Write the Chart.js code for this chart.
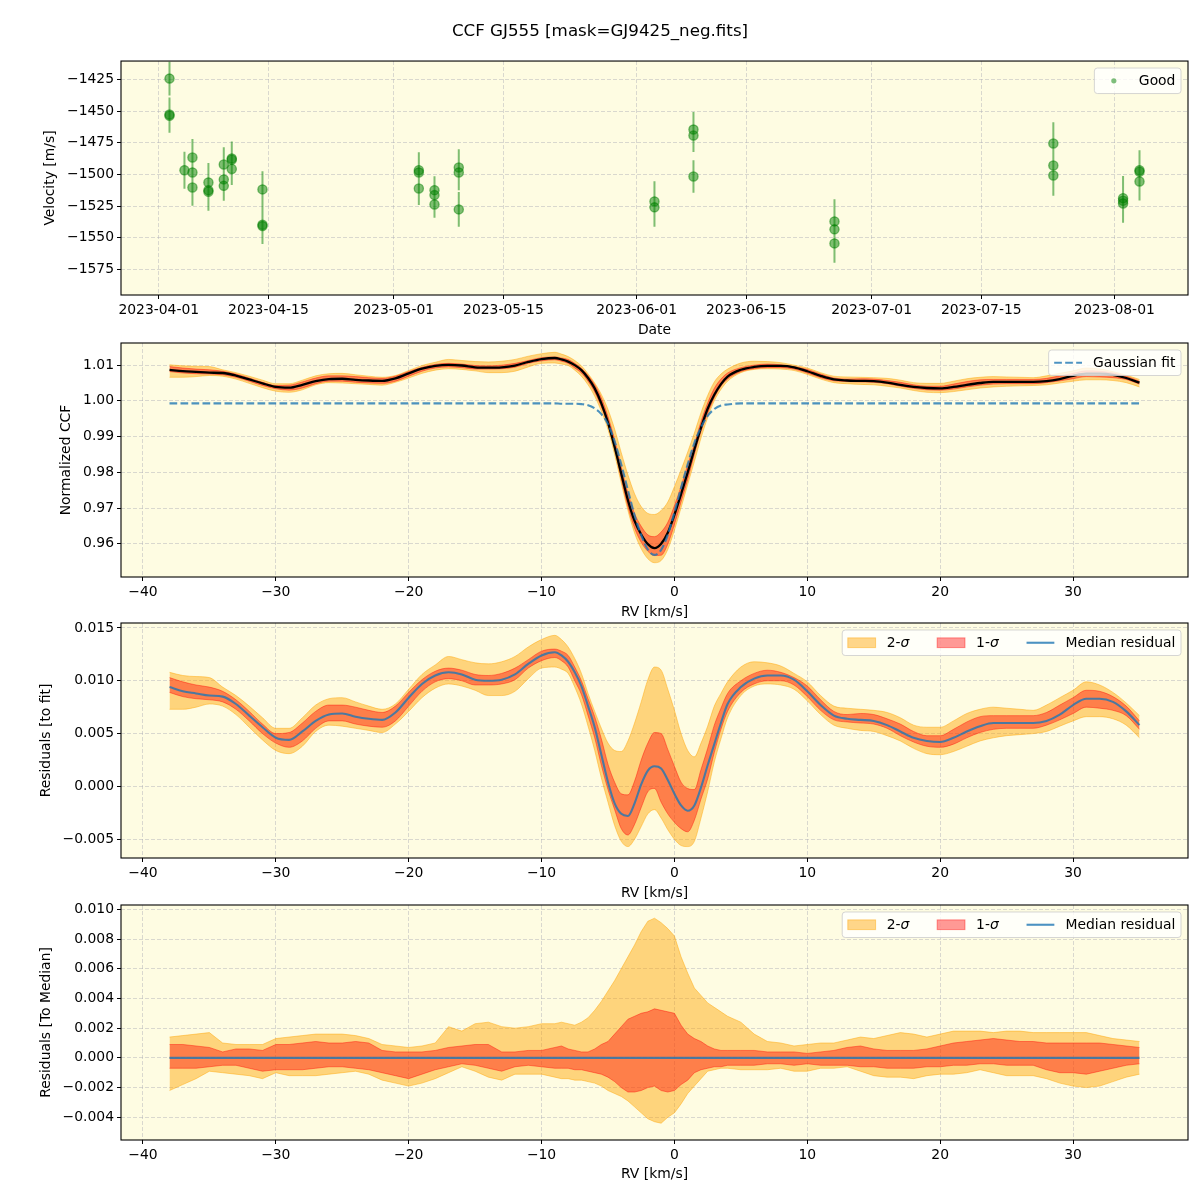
<!DOCTYPE html>
<html>
<head>
<meta charset="utf-8">
<title>CCF GJ555</title>
<script src="https://cdn.jsdelivr.net/npm/chart.js@4.4.1/dist/chart.umd.min.js"></script>
<style>
  html, body { margin: 0; padding: 0; background: #ffffff; }
  #fig { position: relative; width: 1200px; height: 1200px; overflow: hidden; background: #ffffff; }
  #fig canvas { position: absolute; left: 0; }
</style>
</head>
<body>
<div id="fig">
  <canvas id="p1" width="1200" height="340" style="top:0px"></canvas>
  <canvas id="p2" width="1200" height="287" style="top:335px"></canvas>
  <canvas id="p3" width="1200" height="288" style="top:615px"></canvas>
  <canvas id="p4" width="1200" height="288" style="top:897px"></canvas>
</div>
<script>
// ---------------- DATA ----------------
const figTitle = 'CCF GJ555 [mask=GJ9425_neg.fits]';

// Top panel: observations (days since 2023-04-01), velocity [m/s], error [m/s]
const obsDay = [1.37,1.37,1.37, 3.28, 4.3,4.3,4.3, 6.34,6.34,6.34, 8.3,8.3,8.3, 9.32,9.32,9.32,
  13.24,13.24,13.24, 33.2,33.2,33.2, 35.2,35.2,35.2, 38.3,38.3,38.3, 63.28,63.28,
  68.26,68.26,68.26, 86.26,86.26,86.26, 114.2,114.2,114.2, 123.1,123.1,123.1, 125.2,125.2,125.2];
const obsVel = [-1424.2,-1452.6,-1453.6, -1496.6, -1486.6,-1498.4,-1510.3, -1506.3,-1512.4,-1513.7,
  -1492.1,-1503.9,-1509.0, -1487.3,-1488.4,-1495.6, -1511.8,-1539.8,-1540.8, -1496.6,-1498.4,-1511.1,
  -1512.4,-1516.3,-1523.7, -1494.5,-1498.4,-1527.6, -1521.3,-1526.0, -1464.5,-1469.2,-1501.6,
  -1537.1,-1543.4,-1554.5, -1475.5,-1492.9,-1500.8, -1518.7,-1520.8,-1522.9, -1496.6,-1497.9,-1505.5];
const obsErr = [13.3,13.5,13.5, 14.6, 14.6,14.5,14.5, 15.3,15.0,15.0, 13.7,12.5,11.8, 13.4,13.0,12.8,
  14.4,14.2,14.2, 14.2,13.5,13.1, 11.0,11.0,10.5, 14.5,14.0,13.8, 16.0,15.4, 13.9,13.0,12.9,
  17.6,16.0,15.3, 16.8,16.4,16.1, 17.4,16.0,15.3, 15.8,15.5,15.1];

const dateTickDays = [0,14,30,44,61,75,91,105,122];
const dateTickLabels = ['2023-04-01','2023-04-15','2023-05-01','2023-05-15','2023-06-01','2023-06-15','2023-07-01','2023-07-15','2023-08-01'];
const velTickVals = [-1575,-1550,-1525,-1500,-1475,-1450,-1425];
const velTickLabels = ['\u22121575','\u22121550','\u22121525','\u22121500','\u22121475','\u22121450','\u22121425'];

// RV grid [km/s]
const rv = [-38,-37,-36,-35,-34,-33,-32,-31,-30,-29,
  -28,-27,-26,-25,-24,-23,-22,-21,-20,-19,
  -18,-17,-16,-15,-14,-13,-12,-11,-10,-9,
  -8.5,-8,-7.5,-7,-6.5,-6,-5.5,-5,-4.5,-4,
  -3.5,-3,-2.5,-2,-1.5,-1,-0.5,0,0.5,1,
  1.5,2,2.5,3,3.5,4,5,6,7,8,
  9,10,11,12,13,14,15,16,17,18,
  19,20,21,22,23,24,25,26,27,28,
  29,30,31,32,33,34,35];

// Panel 2: normalized CCF
const ccfMedian = [1.0087,1.0083,1.0081,1.0079,1.0078,1.0071,1.0060,1.0049,1.0039,1.0037,
  1.0045,1.0055,1.0061,1.0062,1.0059,1.0057,1.0056,1.0063,1.0077,1.0090,
  1.0098,1.0101,1.0099,1.0094,1.0093,1.0094,1.0099,1.0109,1.0117,1.0120,
  1.0116,1.0110,1.0100,1.0086,1.0064,1.0035,0.9993,0.9939,0.9871,0.9796,
  0.9722,0.9664,0.9626,0.9599,0.9588,0.9600,0.9631,0.9681,0.9739,0.9800,
  0.9864,0.9925,0.9978,1.0017,1.0047,1.0068,1.0087,1.0095,1.0098,1.0098,
  1.0094,1.0083,1.0070,1.0060,1.0057,1.0056,1.0055,1.0051,1.0045,1.0039,
  1.0036,1.0035,1.0039,1.0045,1.0050,1.0053,1.0053,1.0053,1.0053,1.0055,
  1.0061,1.0070,1.0076,1.0076,1.0073,1.0064,1.0051];
const ccf1Lo = [1.0082,1.0078,1.0076,1.0075,1.0073,1.0066,1.0055,1.0043,1.0034,1.0030,
  1.0036,1.0048,1.0055,1.0055,1.0052,1.0050,1.0049,1.0055,1.0069,1.0083,
  1.0092,1.0095,1.0093,1.0089,1.0089,1.0090,1.0094,1.0105,1.0112,1.0115,
  1.0111,1.0105,1.0092,1.0078,1.0055,1.0025,0.9983,0.9932,0.9865,0.9782,
  0.9704,0.9644,0.9604,0.9579,0.9567,0.9568,0.9599,0.9654,0.9717,0.9780,
  0.9850,0.9914,0.9965,1.0009,1.0041,1.0061,1.0082,1.0090,1.0093,1.0093,
  1.0089,1.0078,1.0065,1.0056,1.0054,1.0053,1.0052,1.0048,1.0041,1.0035,
  1.0031,1.0030,1.0033,1.0039,1.0044,1.0047,1.0048,1.0048,1.0048,1.0051,
  1.0056,1.0062,1.0068,1.0067,1.0065,1.0060,1.0047];
const ccf1Hi = [1.0096,1.0092,1.0089,1.0087,1.0083,1.0075,1.0064,1.0052,1.0043,1.0044,
  1.0053,1.0064,1.0070,1.0070,1.0068,1.0065,1.0063,1.0069,1.0082,1.0094,
  1.0102,1.0105,1.0103,1.0099,1.0098,1.0100,1.0105,1.0113,1.0121,1.0123,
  1.0120,1.0116,1.0105,1.0091,1.0071,1.0045,1.0008,0.9956,0.9891,0.9815,
  0.9742,0.9685,0.9649,0.9625,0.9620,0.9633,0.9660,0.9707,0.9761,0.9821,
  0.9879,0.9942,0.9994,1.0035,1.0061,1.0078,1.0093,1.0100,1.0103,1.0101,
  1.0096,1.0088,1.0075,1.0064,1.0061,1.0062,1.0061,1.0057,1.0052,1.0045,
  1.0041,1.0041,1.0047,1.0054,1.0059,1.0060,1.0060,1.0060,1.0060,1.0063,
  1.0070,1.0077,1.0084,1.0083,1.0078,1.0069,1.0055];
const ccf2Lo = [1.0066,1.0066,1.0068,1.0071,1.0069,1.0061,1.0049,1.0037,1.0027,1.0024,
  1.0031,1.0045,1.0051,1.0050,1.0048,1.0046,1.0044,1.0052,1.0064,1.0077,
  1.0086,1.0090,1.0088,1.0084,1.0079,1.0079,1.0083,1.0095,1.0105,1.0106,
  1.0103,1.0099,1.0086,1.0069,1.0045,1.0013,0.9971,0.9920,0.9850,0.9770,
  0.9693,0.9630,0.9586,0.9558,0.9547,0.9553,0.9584,0.9638,0.9701,0.9766,
  0.9830,0.9896,0.9953,1.0000,1.0032,1.0055,1.0079,1.0088,1.0090,1.0089,
  1.0085,1.0074,1.0061,1.0051,1.0048,1.0046,1.0045,1.0041,1.0036,1.0029,
  1.0024,1.0023,1.0026,1.0031,1.0036,1.0039,1.0041,1.0042,1.0043,1.0045,
  1.0050,1.0055,1.0059,1.0059,1.0057,1.0051,1.0039];
const ccf2Hi = [1.0101,1.0098,1.0097,1.0096,1.0087,1.0079,1.0069,1.0058,1.0048,1.0048,
  1.0058,1.0070,1.0076,1.0077,1.0073,1.0069,1.0066,1.0071,1.0085,1.0099,
  1.0108,1.0116,1.0113,1.0110,1.0109,1.0111,1.0116,1.0125,1.0132,1.0136,
  1.0131,1.0124,1.0113,1.0098,1.0076,1.0050,1.0018,0.9976,0.9921,0.9855,
  0.9793,0.9740,0.9704,0.9685,0.9682,0.9693,0.9717,0.9760,0.9807,0.9857,
  0.9910,0.9967,1.0015,1.0053,1.0075,1.0089,1.0106,1.0111,1.0110,1.0107,
  1.0100,1.0092,1.0079,1.0069,1.0067,1.0066,1.0065,1.0063,1.0058,1.0051,
  1.0049,1.0049,1.0055,1.0062,1.0066,1.0068,1.0067,1.0066,1.0065,1.0070,
  1.0077,1.0084,1.0092,1.0089,1.0082,1.0072,1.0060];
const gaussFit = [0.9993,0.9993,0.9993,0.9993,0.9993,0.9993,0.9993,0.9993,0.9993,0.9993,
  0.9993,0.9993,0.9993,0.9993,0.9993,0.9993,0.9993,0.9993,0.9993,0.9993,
  0.9993,0.9993,0.9993,0.9993,0.9993,0.9993,0.9993,0.9993,0.9993,0.9993,
  0.9992,0.9992,0.9992,0.9991,0.9988,0.9979,0.9963,0.9935,0.9887,0.9822,
  0.9750,0.9680,0.9624,0.9584,0.9569,0.9583,0.9625,0.9688,0.9757,0.9823,
  0.9882,0.9926,0.9958,0.9977,0.9987,0.9990,0.9993,0.9993,0.9993,0.9993,
  0.9993,0.9993,0.9993,0.9993,0.9993,0.9993,0.9993,0.9993,0.9993,0.9993,
  0.9993,0.9993,0.9993,0.9993,0.9993,0.9993,0.9993,0.9993,0.9993,0.9993,
  0.9993,0.9993,0.9993,0.9993,0.9993,0.9993,0.9993];
const ccfTickVals = [0.96,0.97,0.98,0.99,1.00,1.01];
const ccfTickLabels = ['0.96','0.97','0.98','0.99','1.00','1.01'];

// Panel 3: residuals to fit
const resMedian = [0.0094,0.0090,0.0088,0.0086,0.0085,0.0078,0.0067,0.0056,0.0046,0.0044,
  0.0052,0.0062,0.0068,0.0069,0.0066,0.0064,0.0063,0.0070,0.0084,0.0097,
  0.0105,0.0108,0.0106,0.0101,0.0100,0.0101,0.0106,0.0116,0.0124,0.0127,
  0.0124,0.0118,0.0108,0.0095,0.0076,0.0056,0.0030,0.0004,-0.0016,-0.0026,
  -0.0028,-0.0016,0.0002,0.0015,0.0019,0.0017,0.0006,-0.0007,-0.0018,-0.0023,
  -0.0018,-0.0001,0.0020,0.0040,0.0060,0.0078,0.0094,0.0102,0.0105,0.0105,
  0.0101,0.0090,0.0077,0.0067,0.0064,0.0063,0.0062,0.0058,0.0052,0.0046,
  0.0043,0.0042,0.0046,0.0052,0.0057,0.0060,0.0060,0.0060,0.0060,0.0062,
  0.0068,0.0077,0.0083,0.0083,0.0080,0.0071,0.0058];
const res1Lo = [0.0089,0.0085,0.0083,0.0082,0.0080,0.0073,0.0062,0.0050,0.0041,0.0037,
  0.0043,0.0055,0.0062,0.0062,0.0059,0.0057,0.0056,0.0062,0.0076,0.0090,
  0.0099,0.0102,0.0100,0.0096,0.0096,0.0097,0.0101,0.0112,0.0119,0.0122,
  0.0119,0.0113,0.0100,0.0087,0.0067,0.0046,0.0020,-0.0003,-0.0022,-0.0040,
  -0.0046,-0.0036,-0.0020,-0.0005,-0.0002,-0.0015,-0.0026,-0.0034,-0.0040,-0.0043,
  -0.0032,-0.0012,0.0007,0.0032,0.0054,0.0071,0.0089,0.0097,0.0100,0.0100,
  0.0096,0.0085,0.0072,0.0063,0.0061,0.0060,0.0059,0.0055,0.0048,0.0042,
  0.0038,0.0037,0.0040,0.0046,0.0051,0.0054,0.0055,0.0055,0.0055,0.0058,
  0.0063,0.0069,0.0075,0.0074,0.0072,0.0067,0.0054];
const res1Hi = [0.0103,0.0099,0.0096,0.0094,0.0090,0.0082,0.0071,0.0059,0.0050,0.0051,
  0.0060,0.0071,0.0077,0.0077,0.0075,0.0072,0.0070,0.0076,0.0089,0.0101,
  0.0109,0.0112,0.0110,0.0106,0.0105,0.0107,0.0112,0.0120,0.0128,0.0130,
  0.0128,0.0124,0.0113,0.0100,0.0083,0.0066,0.0045,0.0021,0.0004,-0.0007,
  -0.0008,0.0005,0.0025,0.0041,0.0051,0.0050,0.0035,0.0019,0.0004,-0.0002,
  -0.0003,0.0016,0.0036,0.0058,0.0074,0.0088,0.0100,0.0107,0.0110,0.0108,
  0.0103,0.0095,0.0082,0.0071,0.0068,0.0069,0.0068,0.0064,0.0059,0.0052,
  0.0048,0.0048,0.0054,0.0061,0.0066,0.0067,0.0067,0.0067,0.0067,0.0070,
  0.0077,0.0084,0.0091,0.0090,0.0085,0.0076,0.0062];
const res2Lo = [0.0073,0.0073,0.0075,0.0078,0.0076,0.0068,0.0056,0.0044,0.0034,0.0031,
  0.0038,0.0052,0.0058,0.0057,0.0055,0.0053,0.0051,0.0059,0.0071,0.0084,
  0.0093,0.0097,0.0095,0.0091,0.0086,0.0086,0.0090,0.0102,0.0112,0.0113,
  0.0111,0.0107,0.0094,0.0078,0.0057,0.0034,0.0008,-0.0015,-0.0037,-0.0052,
  -0.0057,-0.0050,-0.0038,-0.0026,-0.0022,-0.0030,-0.0041,-0.0050,-0.0056,-0.0057,
  -0.0052,-0.0030,-0.0005,0.0023,0.0045,0.0065,0.0086,0.0095,0.0097,0.0096,
  0.0092,0.0081,0.0068,0.0058,0.0055,0.0053,0.0052,0.0048,0.0043,0.0036,
  0.0031,0.0030,0.0033,0.0038,0.0043,0.0046,0.0048,0.0049,0.0050,0.0052,
  0.0057,0.0062,0.0066,0.0066,0.0064,0.0058,0.0046];
const res2Hi = [0.0108,0.0105,0.0104,0.0103,0.0094,0.0086,0.0076,0.0065,0.0055,0.0055,
  0.0065,0.0077,0.0083,0.0084,0.0080,0.0076,0.0073,0.0078,0.0092,0.0106,
  0.0115,0.0123,0.0120,0.0117,0.0116,0.0118,0.0123,0.0132,0.0139,0.0143,
  0.0139,0.0132,0.0121,0.0107,0.0088,0.0071,0.0055,0.0041,0.0034,0.0033,
  0.0043,0.0060,0.0080,0.0101,0.0113,0.0110,0.0092,0.0072,0.0050,0.0034,
  0.0028,0.0041,0.0057,0.0076,0.0088,0.0099,0.0113,0.0118,0.0117,0.0114,
  0.0107,0.0099,0.0086,0.0076,0.0074,0.0073,0.0072,0.0070,0.0065,0.0058,
  0.0056,0.0056,0.0062,0.0069,0.0073,0.0075,0.0074,0.0073,0.0072,0.0077,
  0.0084,0.0091,0.0099,0.0096,0.0089,0.0079,0.0067];
const resTickVals = [-0.005,0,0.005,0.010,0.015];
const resTickLabels = ['\u22120.005','0.000','0.005','0.010','0.015'];

// Panel 4: residuals to median
const medMedian = [0,0,0,0,0,0,0,0,0,0, 0,0,0,0,0,0,0,0,0,0, 0,0,0,0,0,0,0,0,0,0,
  0,0,0,0,0,0,0,0,0,0, 0,0,0,0,0,0,0,0,0,0, 0,0,0,0,0,0,0,0,0,0,
  0,0,0,0,0,0,0,0,0,0, 0,0,0,0,0,0,0,0,0,0, 0,0,0,0,0,0,0];
const med1Lo = [-0.0007,-0.0007,-0.0007,-0.0006,-0.0005,-0.0005,-0.0007,-0.0009,-0.0008,-0.0008,
  -0.0008,-0.0007,-0.0006,-0.0006,-0.0007,-0.0008,-0.0010,-0.0012,-0.0014,-0.0011,
  -0.0008,-0.0006,-0.0004,-0.0005,-0.0007,-0.0009,-0.0006,-0.0005,-0.0006,-0.0007,
  -0.0007,-0.0007,-0.0008,-0.0008,-0.0009,-0.0010,-0.0011,-0.0013,-0.0016,-0.0020,
  -0.0023,-0.0023,-0.0022,-0.0020,-0.0019,-0.0022,-0.0023,-0.0022,-0.0018,-0.0015,
  -0.0010,-0.0008,-0.0007,-0.0006,-0.0006,-0.0005,-0.0005,-0.0005,-0.0004,-0.0004,
  -0.0005,-0.0004,-0.0005,-0.0005,-0.0005,-0.0006,-0.0006,-0.0007,-0.0007,-0.0007,
  -0.0006,-0.0006,-0.0005,-0.0005,-0.0004,-0.0004,-0.0005,-0.0005,-0.0005,-0.0008,
  -0.0010,-0.0010,-0.0011,-0.0009,-0.0007,-0.0005,-0.0004];
const med1Hi = [0.0009,0.0009,0.0008,0.0007,0.0004,0.0006,0.0006,0.0005,0.0009,0.0009,
  0.0010,0.0011,0.0010,0.0010,0.0011,0.0010,0.0005,0.0004,0.0004,0.0004,
  0.0005,0.0007,0.0008,0.0009,0.0009,0.0004,0.0004,0.0005,0.0005,0.0007,
  0.0008,0.0006,0.0005,0.0004,0.0004,0.0006,0.0009,0.0011,0.0016,0.0021,
  0.0026,0.0028,0.0030,0.0031,0.0033,0.0032,0.0031,0.0030,0.0022,0.0016,
  0.0013,0.0011,0.0008,0.0006,0.0005,0.0005,0.0005,0.0005,0.0004,0.0004,
  0.0004,0.0003,0.0004,0.0005,0.0007,0.0008,0.0006,0.0005,0.0005,0.0005,
  0.0006,0.0008,0.0010,0.0011,0.0012,0.0013,0.0012,0.0011,0.0011,0.0010,
  0.0010,0.0010,0.0010,0.0010,0.0009,0.0008,0.0007];
const med2Lo = [-0.0022,-0.0018,-0.0014,-0.0009,-0.0010,-0.0011,-0.0012,-0.0014,-0.0010,-0.0012,
  -0.0012,-0.0012,-0.0011,-0.0010,-0.0009,-0.0011,-0.0015,-0.0017,-0.0019,-0.0017,
  -0.0014,-0.0010,-0.0006,-0.0009,-0.0013,-0.0015,-0.0011,-0.0011,-0.0011,-0.0013,
  -0.0014,-0.0014,-0.0015,-0.0015,-0.0016,-0.0017,-0.0019,-0.0022,-0.0024,-0.0026,
  -0.0029,-0.0033,-0.0037,-0.0041,-0.0043,-0.0044,-0.0040,-0.0037,-0.0031,-0.0024,
  -0.0019,-0.0014,-0.0009,-0.0008,-0.0007,-0.0007,-0.0008,-0.0008,-0.0008,-0.0007,
  -0.0009,-0.0009,-0.0007,-0.0007,-0.0006,-0.0009,-0.0012,-0.0013,-0.0013,-0.0014,
  -0.0012,-0.0011,-0.0011,-0.0010,-0.0008,-0.0010,-0.0012,-0.0012,-0.0012,-0.0014,
  -0.0017,-0.0019,-0.0020,-0.0019,-0.0016,-0.0013,-0.0011];
const med2Hi = [0.0014,0.0015,0.0016,0.0017,0.0010,0.0009,0.0009,0.0009,0.0013,0.0014,
  0.0015,0.0016,0.0016,0.0016,0.0015,0.0013,0.0009,0.0008,0.0007,0.0008,
  0.0010,0.0021,0.0018,0.0023,0.0024,0.0021,0.0020,0.0021,0.0023,0.0023,
  0.0024,0.0023,0.0022,0.0024,0.0027,0.0032,0.0038,0.0045,0.0052,0.0060,
  0.0068,0.0076,0.0085,0.0092,0.0094,0.0091,0.0087,0.0082,0.0068,0.0057,
  0.0047,0.0042,0.0037,0.0034,0.0031,0.0028,0.0024,0.0016,0.0011,0.0010,
  0.0008,0.0009,0.0010,0.0010,0.0012,0.0014,0.0013,0.0015,0.0017,0.0016,
  0.0014,0.0016,0.0018,0.0018,0.0018,0.0017,0.0018,0.0018,0.0017,0.0017,
  0.0017,0.0017,0.0017,0.0015,0.0013,0.0012,0.0011];
const medTickVals = [-0.004,-0.002,0,0.002,0.004,0.006,0.008,0.010];
const medTickLabels = ['\u22120.004','\u22120.002','0.000','0.002','0.004','0.006','0.008','0.010'];

const rvTickVals = [-40,-30,-20,-10,0,10,20,30];
const rvTickLabels = ['\u221240','\u221230','\u221220','\u221210','0','10','20','30'];

const legendTop = ['Good'];
const legendCcf = ['Gaussian fit'];
const legendRes = ['2-\u03c3', '1-\u03c3', 'Median residual'];

// ---------------- STYLE ----------------
const FONT = "'DejaVu Sans', 'Liberation Sans', sans-serif";
const FS = 13.9;
const BG = '#fefce2';
const GRID = 'rgba(170,170,180,0.55)';
const OR_FILL = 'rgba(255,165,0,0.45)';
const RED_FILL = 'rgba(255,0,0,0.4)';
const BLUE = 'rgba(31,119,180,0.8)';
const GREEN = 'rgba(0,128,0,0.5)';

Chart.defaults.font.family = FONT;
Chart.defaults.font.size = FS;
Chart.defaults.color = '#000';
Chart.defaults.animation = false;

const bgFrame = {
  id: 'bgFrame',
  beforeDraw(chart) {
    const { ctx, chartArea: a } = chart;
    ctx.save();
    ctx.fillStyle = BG;
    ctx.fillRect(a.left, a.top, a.right - a.left, a.bottom - a.top);
    ctx.restore();
  },
  afterDatasetsDraw(chart) {
    const { ctx, chartArea: a } = chart;
    ctx.save();
    ctx.strokeStyle = '#000';
    ctx.lineWidth = 1.1;
    ctx.strokeRect(a.left, a.top, a.right - a.left, a.bottom - a.top);
    ctx.restore();
  }
};
Chart.register(bgFrame);

function runs(label) {
  const out = [];
  let cur = '';
  for (const ch of label) {
    if (ch === '\u03c3') { if (cur) out.push([cur, false]); out.push([ch, true]); cur = ''; }
    else cur += ch;
  }
  if (cur) out.push([cur, false]);
  return out;
}

function legendPlugin(items) {
  return {
    id: 'mplLegend',
    afterDraw(chart) {
      const ctx = chart.ctx, a = chart.chartArea;
      const pad = 0.4 * FS, hl = 2 * FS, htp = 0.8 * FS, cs = 2 * FS;
      const fN = FS + 'px ' + FONT, fI = 'italic ' + FS + 'px ' + FONT;
      ctx.save();
      const widths = items.map(it => runs(it.label).reduce((w, r) => { ctx.font = r[1] ? fI : fN; return w + ctx.measureText(r[0]).width; }, 0));
      let W = 2 * pad + cs * (items.length - 1);
      widths.forEach(w => { W += hl + htp + w; });
      const H = 25.5;
      const x0 = a.right - 7 - W, y0 = a.top + 7;
      ctx.beginPath();
      if (ctx.roundRect) ctx.roundRect(x0, y0, W, H, 3); else ctx.rect(x0, y0, W, H);
      ctx.fillStyle = 'rgba(255,255,255,0.8)';
      ctx.fill();
      ctx.strokeStyle = 'rgba(204,204,204,0.8)';
      ctx.lineWidth = 1;
      ctx.stroke();
      const cy = y0 + H / 2;
      let x = x0 + pad;
      items.forEach((it, i) => {
        if (it.type === 'marker') {
          ctx.beginPath(); ctx.arc(x + hl / 2, cy, 2.6, 0, Math.PI * 2);
          ctx.fillStyle = it.color; ctx.fill();
        } else if (it.type === 'line') {
          ctx.beginPath(); ctx.setLineDash(it.dash || []);
          ctx.moveTo(x, cy); ctx.lineTo(x + hl, cy);
          ctx.strokeStyle = it.color; ctx.lineWidth = 2.1; ctx.stroke(); ctx.setLineDash([]);
        } else {
          const h = 0.7 * FS;
          ctx.fillStyle = it.color; ctx.fillRect(x, cy - h / 2, hl, h);
          ctx.strokeStyle = it.color; ctx.lineWidth = 1; ctx.strokeRect(x, cy - h / 2, hl, h);
        }
        let tx = x + hl + htp;
        ctx.fillStyle = '#000'; ctx.textBaseline = 'middle'; ctx.textAlign = 'left';
        runs(it.label).forEach(r => { ctx.font = r[1] ? fI : fN; ctx.fillText(r[0], tx, cy + 0.5); tx += ctx.measureText(r[0]).width; });
        x += hl + htp + widths[i] + cs;
      });
      ctx.restore();
    }
  };
}

function pts(xs, ys) { return xs.map((x, i) => ({ x: x, y: ys[i] })); }
function errPts(xs, ys, es) {
  const out = [];
  xs.forEach((x, i) => {
    out.push({ x: x, y: ys[i] - es[i] });
    out.push({ x: x, y: ys[i] + es[i] });
    out.push({ x: x, y: null });
  });
  return out;
}

function yScale(min, max, vals, labels, title, tpad) {
  return {
    type: 'linear', position: 'left', min: min, max: max,
    afterBuildTicks: s => { s.ticks = vals.map(v => ({ value: v })); },
    afterFit: s => { s.width = 121; s.paddingTop = 0; s.paddingBottom = 0; },
    ticks: { autoSkip: false, maxRotation: 0, padding: 3, color: '#000', font: { family: FONT, size: FS }, callback: (v, i) => labels[i] },
    grid: { color: GRID, lineWidth: 0.8, drawTicks: true, tickLength: 4, tickColor: '#000', tickWidth: 1, tickBorderDash: [] },
    border: { display: false, dash: [4, 2] },
    title: { display: true, text: title, color: '#000', font: { family: FONT, size: FS }, padding: { top: tpad, bottom: 0 } }
  };
}
function xScale(min, max, vals, labels, title, bpad) {
  return {
    type: 'linear', position: 'bottom', min: min, max: max,
    afterBuildTicks: s => { s.ticks = vals.map(v => ({ value: v })); },
    afterFit: s => { s.height = 45; s.paddingLeft = 0; s.paddingRight = 0; },
    ticks: { autoSkip: false, maxRotation: 0, minRotation: 0, padding: 3, color: '#000', font: { family: FONT, size: FS }, callback: (v, i) => labels[i] },
    grid: { color: GRID, lineWidth: 0.8, drawTicks: true, tickLength: 4, tickColor: '#000', tickWidth: 1, tickBorderDash: [] },
    border: { display: false, dash: [4, 2] },
    title: { display: true, text: title, color: '#000', font: { family: FONT, size: FS }, padding: { top: 0, bottom: bpad } }
  };
}
// invisible right-hand spacer axis (keeps the plot's right edge at 1188 px while the title box spans the full width)
function spacerScale() {
  return {
    type: 'linear', position: 'right', display: true,
    afterFit: s => { s.width = 12; s.paddingTop = 0; s.paddingBottom = 0; },
    ticks: { display: false }, grid: { display: false, drawTicks: false }, border: { display: false }, title: { display: false }
  };
}

function baseOptions(padTop, padRight) {
  return {
    responsive: false, maintainAspectRatio: false, animation: false, devicePixelRatio: 1,
    events: [],
    layout: { padding: { left: 0, right: padRight, top: padTop, bottom: 0 } },
    plugins: { legend: { display: false }, tooltip: { enabled: false }, title: { display: false } }
  };
}

const smooth = { pointRadius: 0, pointHoverRadius: 0, cubicInterpolationMode: 'monotone' };
const jag = { pointRadius: 0, pointHoverRadius: 0, tension: 0 };

// ---------- Panel 1 ----------
const o1 = baseOptions(0, 0);
o1.plugins.title = { display: true, text: figTitle, color: '#000', font: { family: FONT, size: 16.7, weight: 'normal' }, padding: { top: 22, bottom: 19 } };
o1.scales = {
  x: xScale(-4.82, 131.39, dateTickDays, dateTickLabels, 'Date', 1.66),
  y: yScale(-1595.3, -1410.3, velTickVals, velTickLabels, 'Velocity [m/s]', 41.7),
  yr: spacerScale()
};
new Chart(document.getElementById('p1'), {
  type: 'line',
  data: { datasets: [
    { label: legendTop[0], data: pts(obsDay, obsVel), showLine: false, pointStyle: 'circle', pointRadius: 4.6,
      pointBackgroundColor: GREEN, pointBorderColor: GREEN, pointBorderWidth: 1.3, order: 0, yAxisID: 'y' },
    { label: 'error bars', data: errPts(obsDay, obsVel, obsErr), borderColor: GREEN, borderWidth: 2,
      pointRadius: 0, spanGaps: false, fill: false, order: 1, yAxisID: 'y' }
  ] },
  options: o1,
  plugins: [legendPlugin([{ type: 'marker', label: legendTop[0], color: GREEN }])]
});

// ---------- Panel 2 ----------
const o2 = baseOptions(8, 12);
o2.scales = {
  x: xScale(-41.65, 38.65, rvTickVals, rvTickLabels, 'RV [km/s]', 1.66),
  y: yScale(0.9507, 1.0162, ccfTickVals, ccfTickLabels, 'Normalized CCF', 57.7)
};
new Chart(document.getElementById('p2'), {
  type: 'line',
  data: { datasets: [
    Object.assign({}, smooth, { label: legendCcf[0], data: pts(rv, gaussFit), borderColor: BLUE, borderWidth: 2.1, borderDash: [7.7, 3.3], fill: false, order: 0 }),
    Object.assign({}, smooth, { label: 'Median CCF', data: pts(rv, ccfMedian), borderColor: '#000', borderWidth: 2.3, fill: false, order: 1 }),
    Object.assign({}, smooth, { label: '1-\u03c3 upper', data: pts(rv, ccf1Hi), borderColor: RED_FILL, backgroundColor: RED_FILL, borderWidth: 1, fill: '+1', order: 2 }),
    Object.assign({}, smooth, { label: '1-\u03c3 lower', data: pts(rv, ccf1Lo), borderColor: RED_FILL, borderWidth: 1, fill: false, order: 3 }),
    Object.assign({}, smooth, { label: '2-\u03c3 upper', data: pts(rv, ccf2Hi), borderColor: OR_FILL, backgroundColor: OR_FILL, borderWidth: 1, fill: '+1', order: 4 }),
    Object.assign({}, smooth, { label: '2-\u03c3 lower', data: pts(rv, ccf2Lo), borderColor: OR_FILL, borderWidth: 1, fill: false, order: 5 })
  ] },
  options: o2,
  plugins: [legendPlugin([{ type: 'line', label: legendCcf[0], color: BLUE, dash: [7.7, 3.3] }])]
});

// ---------- Panels 3 and 4 ----------
function bandChart(id, padTop, ymin, ymax, tv, tl, ytitle, tpad, bpad, med, l1, h1, l2, h2, style) {
  const o = baseOptions(padTop, 12);
  o.scales = {
    x: xScale(-41.65, 38.65, rvTickVals, rvTickLabels, 'RV [km/s]', bpad),
    y: yScale(ymin, ymax, tv, tl, ytitle, tpad)
  };
  return new Chart(document.getElementById(id), {
    type: 'line',
    data: { datasets: [
      Object.assign({}, style, { label: legendRes[2], data: pts(rv, med), borderColor: BLUE, borderWidth: 2.1, fill: false, order: 0 }),
      Object.assign({}, style, { label: legendRes[1], data: pts(rv, h1), borderColor: RED_FILL, backgroundColor: RED_FILL, borderWidth: 1, fill: '+1', order: 1 }),
      Object.assign({}, style, { label: legendRes[1] + ' lower', data: pts(rv, l1), borderColor: RED_FILL, borderWidth: 1, fill: false, order: 2 }),
      Object.assign({}, style, { label: legendRes[0], data: pts(rv, h2), borderColor: OR_FILL, backgroundColor: OR_FILL, borderWidth: 1, fill: '+1', order: 3 }),
      Object.assign({}, style, { label: legendRes[0] + ' lower', data: pts(rv, l2), borderColor: OR_FILL, borderWidth: 1, fill: false, order: 4 })
    ] },
    options: o,
    plugins: [legendPlugin([
      { type: 'patch', label: legendRes[0], color: OR_FILL },
      { type: 'patch', label: legendRes[1], color: RED_FILL },
      { type: 'line', label: legendRes[2], color: BLUE }
    ])]
  });
}
bandChart('p3', 8, -0.00678, 0.01547, resTickVals, resTickLabels, 'Residuals [to fit]', 37.7, 1.66,
  resMedian, res1Lo, res1Hi, res2Lo, res2Hi, smooth);
bandChart('p4', 8, -0.00553, 0.01029, medTickVals, medTickLabels, 'Residuals [To Median]', 37.7, 2.66,
  medMedian, med1Lo, med1Hi, med2Lo, med2Hi, jag);
</script>
</body>
</html>
